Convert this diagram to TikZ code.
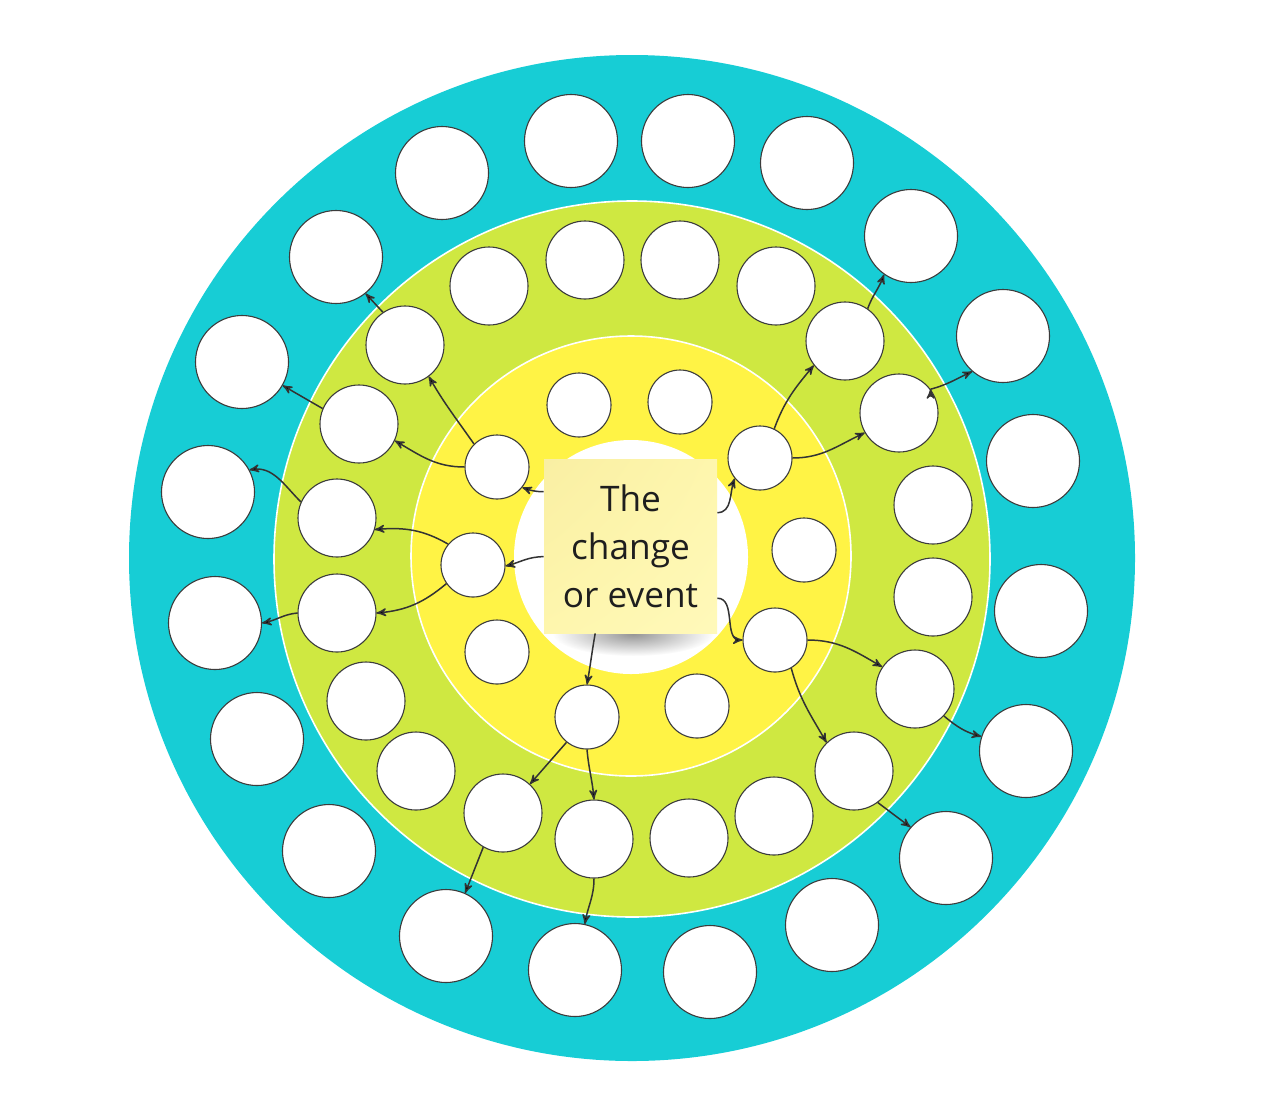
\documentclass[tikz,border=0pt]{standalone}
\usepackage{fontspec}
\setmainfont{Open Sans}
\usetikzlibrary{arrows,fadings,shadings}
\definecolor{ringteal}{HTML}{17CDD5}
\definecolor{ringgreen}{HTML}{CFE841}
\definecolor{ringyellow}{HTML}{FFF345}
\definecolor{dotline}{HTML}{3C3C3C}
\definecolor{linkgray}{HTML}{333333}
\definecolor{notetext}{HTML}{1E1E1E}
\definecolor{noteA}{HTML}{F9EFA3}
\definecolor{noteB}{HTML}{FEF6AD}
\definecolor{noteC}{HTML}{FFF9BA}
\tikzfading[name=softshadow,inner color=transparent!25,outer color=transparent!100]

\begin{document}
\begin{tikzpicture}[x=0.5pt,y=0.5pt]
\tikzstyle{outerdot}=[draw=dotline,fill=white,circle,line width=0.55pt,inner sep=0pt,minimum size=46.5pt]
\tikzstyle{middot}=[outerdot,minimum size=39pt]
\tikzstyle{innerdot}=[outerdot,minimum size=32pt]
\tikzstyle{notebox}=[shade,upper left=noteA,upper right=noteB,lower left=noteB,lower right=noteC,
  minimum width=86.5pt,minimum height=87pt,inner sep=0pt,align=center,text=notetext,
  font=\fontsize{17.6}{24}\selectfont]
\tikzstyle{link}=[->,>=stealth',draw=linkgray,line width=0.75pt]
\useasboundingbox (0,0) rectangle (1272,-1114);
% rings
\fill[ringteal] (632,-558) circle (503);
\filldraw[fill=ringgreen,draw=white,line width=0.8pt] (632,-559) circle (358);
\filldraw[fill=ringyellow,draw=white,line width=0.8pt] (631,-556) circle (220);
\fill[white] (631,-557) circle (117);
% sticky note
\fill[black!55,path fading=softshadow] (633,-634) ellipse (80 and 22);
\node[notebox] (ev) at (630.5,-546) {The\\change\\or event};
% outer ring
\path
 (442,-173) node[outerdot] (o1) {}
 (571,-141) node[outerdot] (o2) {}
 (688,-141) node[outerdot] (o3) {}
 (807,-163) node[outerdot] (o4) {}
 (911,-236) node[outerdot] (o5) {}
 (1003,-336) node[outerdot] (o6) {}
 (1033,-461) node[outerdot] (o7) {}
 (1041,-611) node[outerdot] (o8) {}
 (1026,-751) node[outerdot] (o9) {}
 (946,-858) node[outerdot] (o10) {}
 (832,-925) node[outerdot] (o11) {}
 (710,-972) node[outerdot] (o12) {}
 (575,-970) node[outerdot] (o13) {}
 (446,-936) node[outerdot] (o14) {}
 (329,-851) node[outerdot] (o15) {}
 (257,-739) node[outerdot] (o16) {}
 (215,-623) node[outerdot] (o17) {}
 (208,-492) node[outerdot] (o18) {}
 (242,-362) node[outerdot] (o19) {}
 (336,-257) node[outerdot] (o20) {}
 ;
% middle ring
\path
 (489,-286) node[middot] (g1) {}
 (585,-260) node[middot] (g2) {}
 (680,-260) node[middot] (g3) {}
 (776,-286) node[middot] (g4) {}
 (845,-341) node[middot] (g5) {}
 (899,-413) node[middot] (g6) {}
 (933,-505) node[middot] (g7) {}
 (933,-597) node[middot] (g8) {}
 (915,-689) node[middot] (g9) {}
 (854,-771) node[middot] (g10) {}
 (774,-816) node[middot] (g11) {}
 (689,-838) node[middot] (g12) {}
 (594,-839) node[middot] (g13) {}
 (503,-813) node[middot] (g14) {}
 (416,-771) node[middot] (g15) {}
 (366,-701) node[middot] (g16) {}
 (337,-613) node[middot] (g17) {}
 (337,-518) node[middot] (g18) {}
 (359,-424) node[middot] (g19) {}
 (405,-345) node[middot] (g20) {}
 ;
% inner ring
\path
 (579,-405) node[innerdot] (y1) {}
 (680,-402) node[innerdot] (y2) {}
 (760,-458) node[innerdot] (y3) {}
 (804,-550) node[innerdot] (y4) {}
 (775,-640) node[innerdot] (y5) {}
 (697,-706) node[innerdot] (y6) {}
 (587,-717) node[innerdot] (y7) {}
 (497,-652) node[innerdot] (y8) {}
 (473,-565) node[innerdot] (y9) {}
 (497,-467) node[innerdot] (y10) {}
 ;
% links
\path[link]
 (ev.148) edge[out=180,in=-20] (y10.-39)
 (ev.187) edge[out=180,in=15] (y9.-2)
 (ev.-112) edge[out=-100,in=80] (y7.north)
 (ev.21) edge[out=0,in=-110] (y3.-141)
 (ev.-31) edge[out=0,in=180] (y5.180)
 (y10.180) edge[out=180,in=-30] (g19.-25)
 (y10.135) edge[out=125,in=-60] (g20.-53)
 (y9.140) edge[out=150,in=5] (g18.-17)
 (y9.-145) edge[out=-140,in=5] (g17.0)
 (y7.-129) edge (g14.47)
 (y7.south) edge[out=-85,in=95] (g13.north)
 (y5.0) edge[out=0,in=150] (g9.146)
 (y5.-60) edge[out=-75,in=120] (g10.134)
 (y3.64) edge[out=70,in=-130] (g5.-142)
 (y3.0) edge[out=0,in=-155] (g6.-150)
 (g20.124) edge (o20.-51)
 (g19.157) edge (o19.-30)
 (g18.156) edge[out=135,in=10] (o18.28)
 (g17.180) edge[out=185,in=10] (o17.0)
 (g14.-120) edge (o14.66)
 (g13.south) edge[out=-90,in=80] (o13.78)
 (g9.-43) edge[out=-40,in=165] (o9.162)
 (g10.-53) edge (o10.139)
 (g5.55) edge[out=70,in=-110] (o5.-125)
 (g6.37) edge[out=15,in=-155] (o6.-131)
 ;
\end{tikzpicture}
\end{document}
